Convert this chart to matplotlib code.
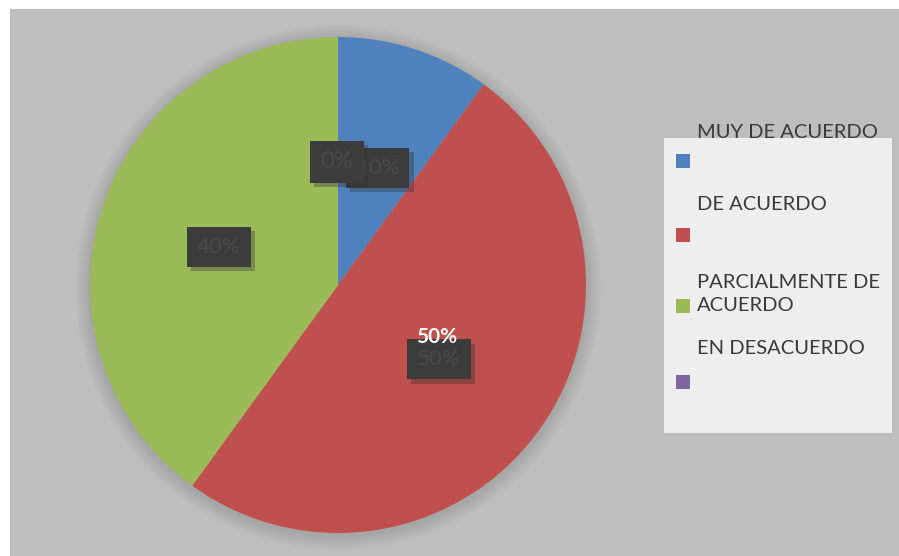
import matplotlib.pyplot as plt
import matplotlib.patheffects as pe
from matplotlib.patches import Rectangle, Circle

categorias = ["MUY DE ACUERDO", "DE ACUERDO", "PARCIALMENTE DE\nACUERDO", "EN DESACUERDO"]
valores = [10, 50, 40, 0]
colores = ["#4f81bd", "#c0504d", "#9bbb59", "#8064a2"]
etiquetas = ["10%", "50%", "40%", "0%"]

plt.rcParams['font.family'] = ['Lato', 'DejaVu Sans']

W, H = 899, 556
fig = plt.figure(figsize=(W / 100, H / 100), dpi=100, facecolor="white")

# fondo gris del area del grafico
fig.add_artist(Rectangle((10 / W, 0), 1 - 10 / W, 1 - 9 / H, transform=fig.transFigure,
                         facecolor="#bebebe", edgecolor="none", zorder=0))

# pie: centro (338, 285) px, radio 248 px
ax = fig.add_axes([90 / W, (H - 533) / H, 496 / W, 496 / H])

# sombra difusa
for k in range(12):
    ax.add_patch(Circle((0.0, -0.01), 1.0 + 0.005 * (k + 1), facecolor="#707070",
                        edgecolor="none", alpha=0.02, clip_on=False, zorder=0))

wedges, _ = ax.pie(valores, colors=colores, startangle=90, counterclock=False,
                   radius=1, wedgeprops=dict(linewidth=0, zorder=2))
for w in wedges:
    w.set_clip_on(False)
ax.set_xlim(-1, 1)
ax.set_ylim(-1, 1)
ax.set_aspect("equal")
ax.axis("off")

# etiquetas de datos (se ven como bloques oscuros)
def bloque(x, y, s, fs=16):
    t = ax.text(x, y, s, ha="center", va="center", fontsize=fs, color="#4a4a4a",
                zorder=5, bbox=dict(boxstyle="square,pad=0.45", facecolor="#3c3c3c",
                                    edgecolor="none"))
    t.get_bbox_patch().set_path_effects([
        pe.SimplePatchShadow(offset=(3, -3), shadow_rgbFace="#303030", alpha=0.35),
        pe.Normal()])
    return t

bloque(0.16, 0.472, etiquetas[0])
bloque(-0.48, 0.153, etiquetas[2])
bloque(0.407, -0.30, etiquetas[1])
bloque(-0.005, 0.496, etiquetas[3], fs=17)
ax.text(0.399, -0.21, etiquetas[1], ha="center", va="center", fontsize=15,
        fontweight="bold", color="white", zorder=6)

# leyenda
fig.add_artist(Rectangle((664 / W, (H - 433) / H), 228 / W, 295 / H,
                         transform=fig.transFigure, facecolor="#eeeeee",
                         edgecolor="none", zorder=1))
texto_y = [133, 205, 294, 348]
marca_y = [161, 235, 306, 382]
for cat, col, ty, my in zip(categorias, colores, texto_y, marca_y):
    fig.add_artist(Rectangle((676 / W, (H - my - 7) / H), 14 / W, 14 / H,
                             transform=fig.transFigure, facecolor=col,
                             edgecolor="none", zorder=3))
    fig.text(697 / W, (H - ty) / H, cat, ha="left", va="center", fontsize=14.5,
             color="#3a3a3a", linespacing=1.45, zorder=4)

fig.savefig("out.png", dpi=100, facecolor="white")
